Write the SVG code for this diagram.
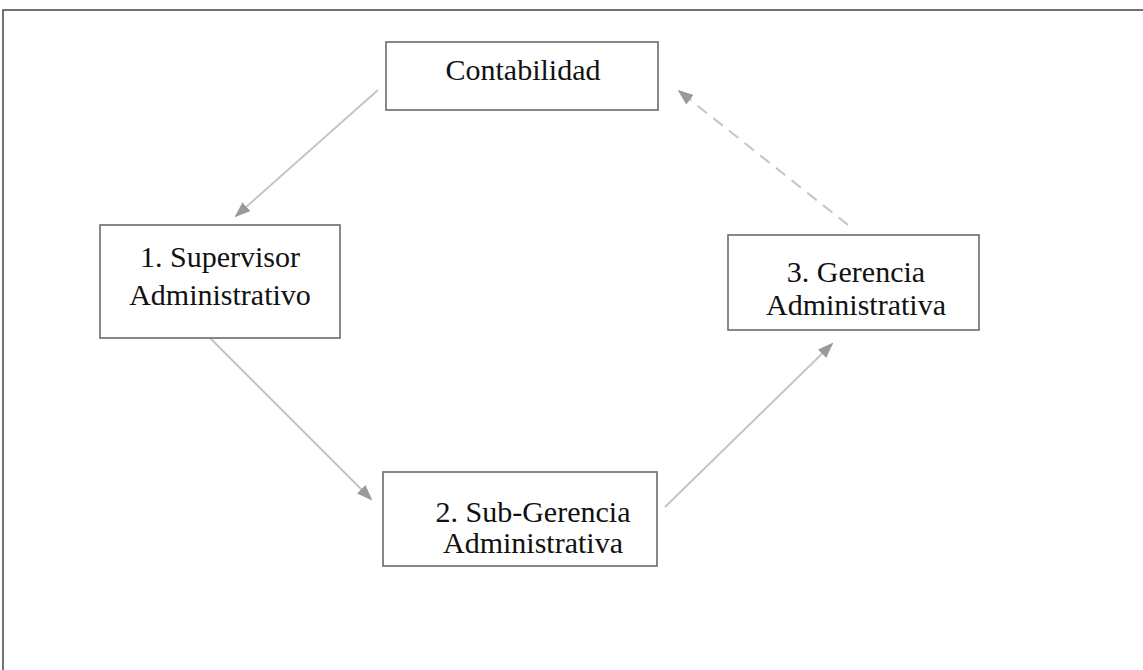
<svg xmlns="http://www.w3.org/2000/svg" width="1143" height="670" viewBox="0 0 1143 670">
  <style>
    .box { fill: #ffffff; stroke: #6a6a6a; stroke-width: 1.6; }
    .lbl { font-family: "Liberation Serif", "Times New Roman", serif; font-size: 30px; fill: #111111; text-anchor: middle; }
    .link { stroke: #c4c4c4; stroke-width: 2; fill: none; }
    .dash { stroke-dasharray: 12 8; }
    .frame { stroke: #444444; stroke-width: 1.5; fill: none; }
  </style>
  <defs>
    <marker id="head" viewBox="0 0 16 12" refX="14" refY="6" markerWidth="16" markerHeight="12" markerUnits="userSpaceOnUse" orient="auto">
      <path d="M0,0 L16,6 L0,12 z" fill="#9a9a9a"/>
    </marker>
  </defs>
  <rect width="1143" height="670" fill="#ffffff"/>
  <!-- page frame -->
  <path class="frame" d="M3,670 L3,10 L1143,10"/>

  <g id="connectors">
    <line class="link" x1="378" y1="90" x2="236" y2="216" marker-end="url(#head)"/>
    <line class="link" x1="210" y1="338" x2="371" y2="499" marker-end="url(#head)"/>
    <line class="link" x1="665" y1="507" x2="832" y2="344" marker-end="url(#head)"/>
    <line class="link dash" x1="848" y1="225" x2="679" y2="91" marker-end="url(#head)"/>
  </g>

  <g id="contabilidad">
    <rect class="box" x="386" y="42" width="272" height="68"/>
    <text class="lbl" x="523" y="80">Contabilidad</text>
  </g>
  <g id="supervisor">
    <rect class="box" x="100" y="225" width="240" height="113"/>
    <text class="lbl" x="220" y="267">1. Supervisor</text>
    <text class="lbl" x="220" y="305">Administrativo</text>
  </g>
  <g id="subgerencia">
    <rect class="box" x="383" y="472" width="274" height="94"/>
    <text class="lbl" x="533" y="522">2. Sub-Gerencia</text>
    <text class="lbl" x="533" y="553">Administrativa</text>
  </g>
  <g id="gerencia">
    <rect class="box" x="728" y="235" width="251" height="95"/>
    <text class="lbl" x="856" y="282">3. Gerencia</text>
    <text class="lbl" x="856" y="315">Administrativa</text>
  </g>
</svg>
